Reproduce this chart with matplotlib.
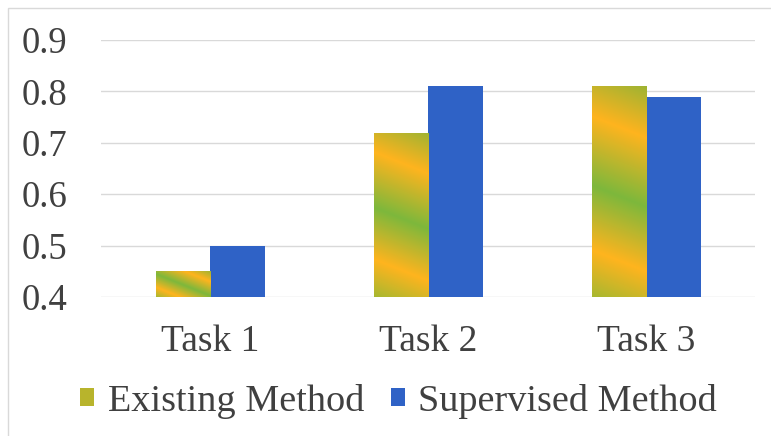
import numpy as np
import matplotlib
matplotlib.use("Agg")
import matplotlib.pyplot as plt
from matplotlib.patches import Patch, Rectangle
from matplotlib.colors import LinearSegmentedColormap

categories = ["Task 1", "Task 2", "Task 3"]
existing = [0.45, 0.72, 0.81]
supervised = [0.50, 0.81, 0.79]
series_names = ["Existing Method", "Supervised Method"]
yticks = [0.4, 0.5, 0.6, 0.7, 0.8, 0.9]

plt.rcParams["font.family"] = ["Liberation Serif", "DejaVu Serif"]
text_color = "#404040"
blue = "#2F62C6"

# diagonal orange/green gradient used for the "Existing Method" bars
stripe_cmap = LinearSegmentedColormap.from_list(
    "stripes",
    [(0.0, "#A8B830"), (0.2, "#FFB41E"), (0.48, "#7DB83C"),
     (0.78, "#FFB41E"), (1.0, "#9FB332")],
)

fig = plt.figure(figsize=(7.71, 4.36), dpi=100)
ax = fig.add_axes([101 / 771, 1 - 297 / 436, 654 / 771, 257 / 436])

x = np.arange(len(categories))
w = 0.25
ymin, ymax = 0.4, 0.9
bars_e = ax.bar(x - w / 2, existing, w, color="none", zorder=3)
bars_s = ax.bar(x + w / 2, supervised, w, color=blue, zorder=3)

ax.set_xlim(-0.5, len(categories) - 0.5)
ax.set_ylim(ymin, ymax)

# fill each existing bar with the gradient, clipped to its rectangle;
# the stripe angle is kept constant in screen space
fig.canvas.draw()
(px0, py0), (px1, py1) = ax.transData.transform([(0, ymin), (1, ymin + 1)])
px_per_x, px_per_y = px1 - px0, py1 - py0
slope = 0.4
n = 200
for b in bars_e:
    x0, y1 = b.get_x(), b.get_height()
    wpx = b.get_width() * px_per_x
    hpx = (y1 - ymin) * px_per_y
    u = np.linspace(0, wpx, n)[None, :]
    v = np.linspace(0, hpx, n)[:, None]
    t = (v + slope * u) / (hpx + slope * wpx)
    im = ax.imshow(t, cmap=stripe_cmap, origin="lower", aspect="auto",
                   extent=[x0, x0 + b.get_width(), ymin, y1], zorder=3,
                   interpolation="bilinear", vmin=0, vmax=1)
    im.set_clip_path(b)

ax.set_xlim(-0.5, len(categories) - 0.5)
ax.set_ylim(ymin, ymax)

ax.set_yticks(yticks)
ax.set_yticklabels([f"{v:.1f}" for v in yticks])
ax.set_xticks(x)
ax.set_xticklabels(categories)
ax.tick_params(axis="y", length=0, pad=24, labelsize=26.5, labelcolor=text_color)
ax.tick_params(axis="x", length=0, pad=20, labelsize=27, labelcolor=text_color)
ax.grid(axis="y", color="#D9D9D9", linewidth=1.0, zorder=0)
ax.set_axisbelow(True)
for s in ax.spines.values():
    s.set_visible(False)

handles = [Patch(facecolor="#B8B42C", edgecolor="none"),
           Patch(facecolor=blue, edgecolor="none")]
fig.legend(handles, series_names, loc="center", bbox_to_anchor=(0.517, 1 - 401 / 436),
           ncol=2, frameon=False, fontsize=27.5, handlelength=0.37, handleheight=0.37,
           handletextpad=0.35, columnspacing=0.7, labelcolor=text_color)

# light frame around the chart area
fig.add_artist(Rectangle((8 / 771, -0.1), 1.2, 1 - 8 / 436 + 0.1,
                         transform=fig.transFigure, fill=False,
                         edgecolor="#D9D9D9", linewidth=1.0))

fig.savefig("out.png", dpi=100)
